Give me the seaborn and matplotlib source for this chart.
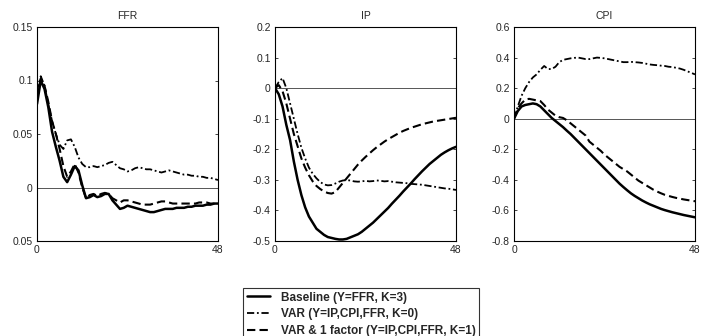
import numpy as np
import pandas as pd
import matplotlib
matplotlib.use("Agg")
import matplotlib.pyplot as plt
import seaborn as sns
from matplotlib.lines import Line2D

months = list(range(49))

ffr_base = [0.078, 0.100, 0.092, 0.075, 0.052, 0.038, 0.025, 0.010, 0.005, 0.012,
            0.020, 0.016, 0.002, -0.010, -0.009, -0.007, -0.009, -0.008, -0.006, -0.006,
            -0.012, -0.016, -0.020, -0.019, -0.017, -0.018, -0.019, -0.020, -0.021, -0.022,
            -0.023, -0.023, -0.022, -0.021, -0.020, -0.020, -0.020, -0.019, -0.019, -0.019,
            -0.018, -0.018, -0.017, -0.017, -0.017, -0.016, -0.016, -0.015, -0.015]
ffr_var = [0.090, 0.104, 0.095, 0.078, 0.062, 0.050, 0.040, 0.036, 0.044, 0.045,
           0.038, 0.028, 0.022, 0.019, 0.019, 0.020, 0.019, 0.020, 0.021, 0.023,
           0.024, 0.021, 0.018, 0.017, 0.015, 0.016, 0.018, 0.019, 0.018, 0.017,
           0.017, 0.016, 0.015, 0.014, 0.015, 0.016, 0.015, 0.014, 0.013, 0.012,
           0.012, 0.011, 0.011, 0.010, 0.010, 0.009, 0.009, 0.008, 0.007]
ffr_fac = [0.085, 0.102, 0.095, 0.080, 0.062, 0.050, 0.036, 0.020, 0.010, 0.015,
           0.022, 0.014, 0.000, -0.010, -0.007, -0.006, -0.008, -0.006, -0.005, -0.006,
           -0.010, -0.012, -0.014, -0.012, -0.012, -0.013, -0.014, -0.015, -0.016, -0.016,
           -0.016, -0.015, -0.014, -0.013, -0.013, -0.014, -0.015, -0.015, -0.015, -0.015,
           -0.015, -0.015, -0.015, -0.014, -0.014, -0.014, -0.015, -0.015, -0.014]

ip_base = [0.0, -0.02, -0.06, -0.12, -0.17, -0.24, -0.30, -0.35, -0.39, -0.42,
           -0.44, -0.46, -0.47, -0.48, -0.487, -0.49, -0.493, -0.495, -0.495, -0.493,
           -0.488, -0.483, -0.478, -0.47, -0.46, -0.45, -0.44, -0.428, -0.416, -0.404,
           -0.392, -0.378, -0.365, -0.352, -0.338, -0.325, -0.312, -0.298, -0.285, -0.272,
           -0.26, -0.248, -0.238, -0.228, -0.218, -0.21, -0.203, -0.197, -0.192]
ip_var = [0.0, 0.02, 0.033, 0.0, -0.05, -0.10, -0.15, -0.195, -0.23, -0.26,
          -0.28, -0.295, -0.307, -0.315, -0.318, -0.317, -0.312, -0.306, -0.302, -0.301,
          -0.302, -0.305, -0.306, -0.305, -0.303, -0.305, -0.304, -0.302, -0.303, -0.305,
          -0.304, -0.306, -0.308, -0.309, -0.31, -0.311, -0.313, -0.314, -0.315, -0.316,
          -0.318, -0.32, -0.322, -0.324, -0.326, -0.328, -0.329, -0.331, -0.333]
ip_fac = [0.0, 0.01, -0.01, -0.05, -0.10, -0.15, -0.19, -0.23, -0.26, -0.285,
          -0.305, -0.32, -0.33, -0.338, -0.343, -0.345, -0.34, -0.325, -0.31, -0.295,
          -0.28, -0.265, -0.25, -0.237, -0.225, -0.214, -0.203, -0.193, -0.184, -0.175,
          -0.167, -0.16, -0.153, -0.146, -0.14, -0.135, -0.13, -0.126, -0.122, -0.118,
          -0.115, -0.112, -0.109, -0.107, -0.105, -0.103, -0.101, -0.099, -0.097]

cpi_base = [0.0, 0.05, 0.08, 0.09, 0.095, 0.1, 0.095, 0.08, 0.055, 0.03,
            0.005, -0.015, -0.035, -0.055, -0.078, -0.1, -0.125, -0.15, -0.175, -0.2,
            -0.225, -0.25, -0.275, -0.3, -0.325, -0.35, -0.375, -0.4, -0.425, -0.447,
            -0.468, -0.488, -0.505, -0.52, -0.535, -0.548, -0.56, -0.57, -0.58, -0.59,
            -0.598, -0.605, -0.612, -0.618, -0.624, -0.63, -0.635, -0.64, -0.645]
cpi_var = [0.0, 0.08, 0.15, 0.2, 0.24, 0.27, 0.29, 0.32, 0.345, 0.325,
           0.325, 0.34, 0.37, 0.385, 0.39, 0.395, 0.398, 0.4, 0.395, 0.39,
           0.39, 0.395, 0.4, 0.398, 0.395, 0.39, 0.385, 0.38, 0.375, 0.37,
           0.37, 0.372, 0.37, 0.368, 0.365, 0.36, 0.355, 0.352, 0.35, 0.347,
           0.345, 0.34, 0.338, 0.333, 0.328, 0.32, 0.31, 0.3, 0.29]
cpi_fac = [0.0, 0.07, 0.1, 0.125, 0.13, 0.125, 0.12, 0.115, 0.09, 0.06,
           0.04, 0.02, 0.01, 0.005, -0.01, -0.03, -0.05, -0.07, -0.09, -0.11,
           -0.15, -0.17, -0.19, -0.21, -0.235, -0.255, -0.275, -0.295, -0.315, -0.33,
           -0.345, -0.365, -0.385, -0.405, -0.42, -0.435, -0.45, -0.465, -0.477, -0.488,
           -0.498, -0.505, -0.512, -0.518, -0.523, -0.528, -0.532, -0.536, -0.54]

panel_titles = ["FFR", "IP", "CPI"]
model_labels = ["Baseline (Y=FFR, K=3)", "VAR (Y=IP,CPI,FFR, K=0)",
                "VAR & 1 factor (Y=IP,CPI,FFR, K=1)"]
x_ticks = [0, 48]
ffr_yticks = [0.15, 0.1, 0.05, 0, -0.05]
ffr_yticklabels = ["0.15", "0.1", "0.05", "0", "0.05"]
ip_yticks = [0.2, 0.1, 0, -0.1, -0.2, -0.3, -0.4, -0.5]
ip_yticklabels = ["0.2", "0.1", "0", "-0.1", "-0.2", "-0.3", "-0.4", "-0.5"]
cpi_yticks = [0.6, 0.4, 0.2, 0, -0.2, -0.4, -0.6, -0.8]
cpi_yticklabels = ["0.6", "0.4", "0.2", "0", "-0.2", "-0.4", "-0.6", "-0.8"]

sns.set_style("white")
plt.rcParams["font.family"] = ["Liberation Sans", "DejaVu Sans"]

series = {
    "FFR": [ffr_base, ffr_var, ffr_fac],
    "IP": [ip_base, ip_var, ip_fac],
    "CPI": [cpi_base, cpi_var, cpi_fac],
}
rows = []
for var, lst in series.items():
    for lab, vals in zip(model_labels, lst):
        for m, v in zip(months, vals):
            rows.append({"month": m, "value": v, "model": lab, "variable": var})
df = pd.DataFrame(rows)

fig = plt.figure(figsize=(7.04, 3.36), dpi=100)
lefts = [37 / 704, 275 / 704, 514 / 704]
w = 181 / 704
bottom = 1 - 241 / 336
h = 214 / 336

styles = [dict(linestyle="-", linewidth=1.8),
          dict(linestyle=(0, (4, 1.5, 1, 1.5)), linewidth=1.3),
          dict(linestyle=(0, (4, 2)), linewidth=1.5)]
ylims = {"FFR": (-0.05, 0.15), "IP": (-0.5, 0.2), "CPI": (-0.8, 0.6)}
yticks = {"FFR": (ffr_yticks, ffr_yticklabels), "IP": (ip_yticks, ip_yticklabels),
          "CPI": (cpi_yticks, cpi_yticklabels)}

for i, var in enumerate(panel_titles):
    ax = fig.add_axes([lefts[i], bottom, w, h])
    ax.axhline(0, color="#555555", linewidth=0.7, zorder=1)
    for j, lab in enumerate(model_labels):
        sub = df[(df.variable == var) & (df.model == lab)]
        sns.lineplot(data=sub, x="month", y="value", ax=ax, color="black",
                     legend=False, **styles[j])
    ax.set_xlim(0, 48)
    ax.set_ylim(*ylims[var])
    ax.set_xticks(x_ticks)
    ax.set_xticklabels([str(t) for t in x_ticks])
    ax.set_yticks(yticks[var][0])
    ax.set_yticklabels(yticks[var][1])
    ax.set_xlabel("")
    ax.set_ylabel("")
    ax.set_title(var, fontsize=7.5, pad=6)
    ax.tick_params(direction="in", length=2.5, labelsize=7.5, top=True, right=True,
                   left=True, bottom=True, width=0.6, pad=3)
    for s in ax.spines.values():
        s.set_linewidth(0.8)
        s.set_color("black")
        s.set_visible(True)

handles = [Line2D([], [], color="black", **styles[j]) for j in range(3)]
leg = fig.legend(handles, model_labels, loc="upper left",
                 bbox_to_anchor=(243 / 704, 1 - 288 / 336),
                 prop={"size": 8.5, "weight": "bold"},
                 frameon=True, fancybox=False, handlelength=2.0, handletextpad=0.9,
                 borderpad=0.3, labelspacing=0.4, borderaxespad=0)
leg.get_frame().set_edgecolor("black")
leg.get_frame().set_linewidth(0.8)

fig.savefig("out.png", dpi=100)
